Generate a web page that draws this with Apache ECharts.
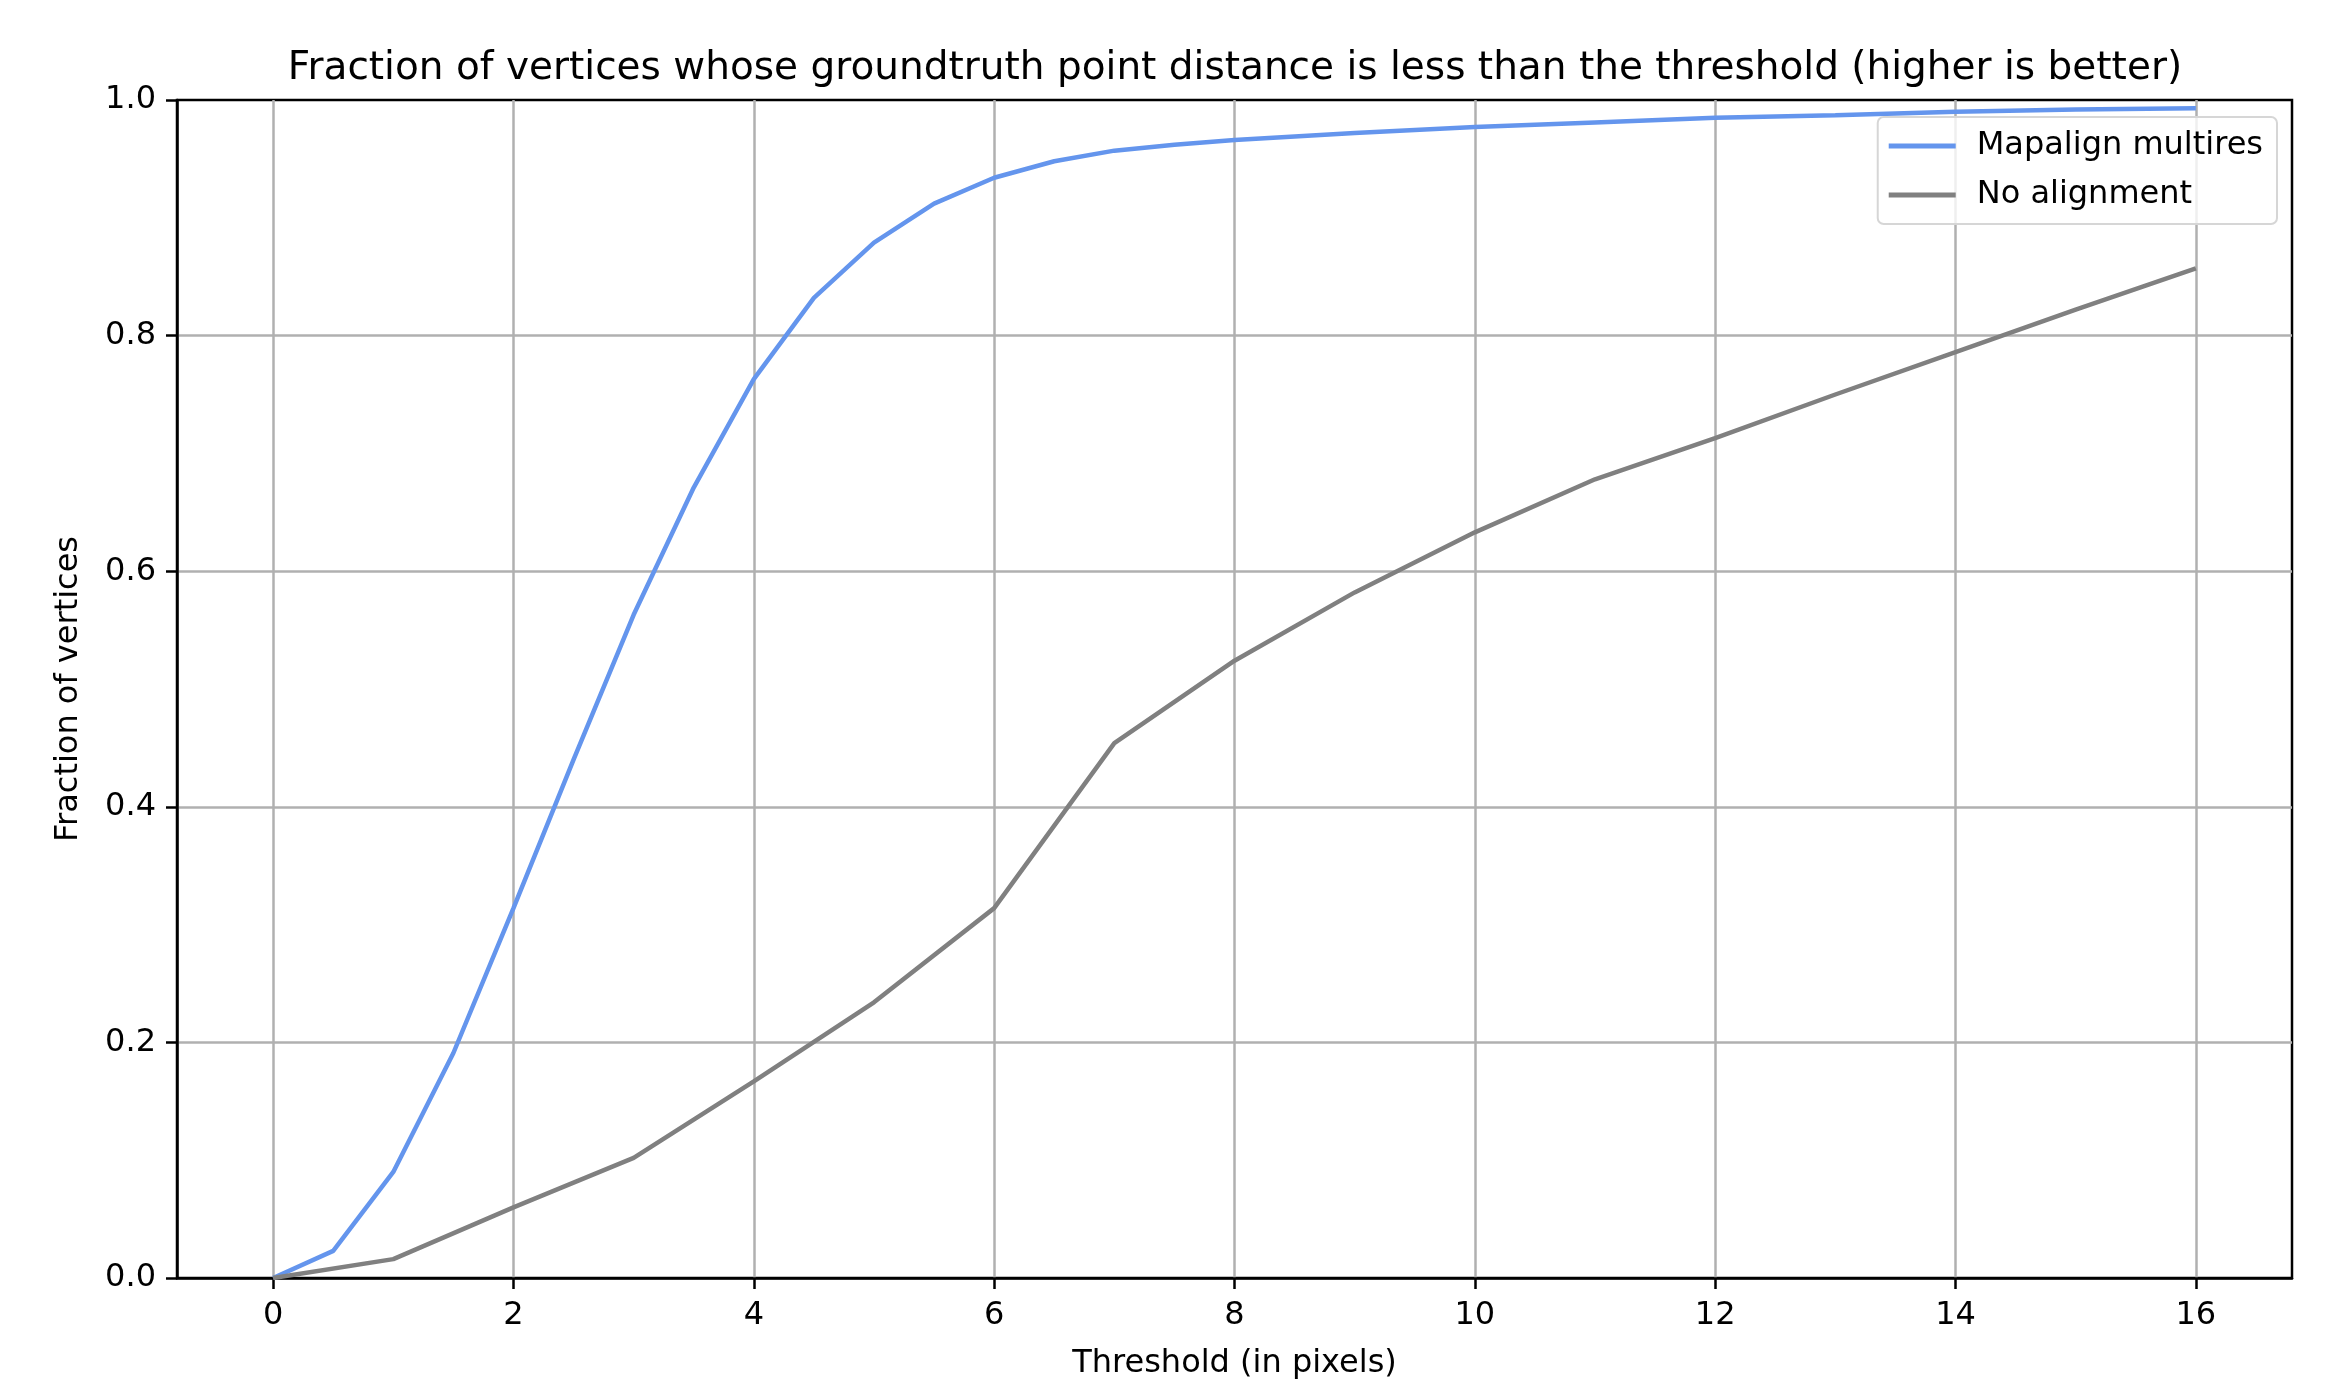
<!DOCTYPE html>
<html>
<head>
<meta charset="utf-8">
<script src="https://cdn.jsdelivr.net/npm/echarts@6/dist/echarts.min.js"></script>
<style>
  html, body { margin: 0; padding: 0; background: #fff; }
  #chart { width: 2347px; height: 1385px; }
</style>
</head>
<body>
<div id="chart"></div>
<script>
// threshold values (pixels) for each curve
const mapalignX = [0, 0.5, 1, 1.5, 2, 2.5, 3, 3.5, 4, 4.5, 5, 5.5, 6, 6.5, 7, 7.5, 8, 9, 10, 11, 12, 13, 14, 15, 16];
const mapalignY = [0, 0.023, 0.090, 0.191, 0.314, 0.440, 0.563, 0.671, 0.763, 0.832, 0.879, 0.912, 0.934, 0.948, 0.957, 0.962, 0.966, 0.972, 0.977, 0.981, 0.985, 0.987, 0.990, 0.992, 0.993];
const noAlignX = [0, 1, 2, 3, 4, 5, 6, 7, 8, 9, 10, 11, 12, 13, 14, 15, 16];
const noAlignY = [0, 0.016, 0.060, 0.102, 0.167, 0.234, 0.314, 0.454, 0.524, 0.582, 0.633, 0.678, 0.713, 0.750, 0.786, 0.822, 0.857];
const xTicks = [0, 2, 4, 6, 8, 10, 12, 14, 16];
const seriesNames = ['Mapalign multires', 'No alignment'];

const font = 'DejaVu Sans';
const zip = (xs, ys) => xs.map((x, i) => [x, ys[i]]);
const spine = { show: true, onZero: false, lineStyle: { color: '#000', width: 2.5 } };
const tick = { show: true, inside: false, length: 11, lineStyle: { color: '#000', width: 2.5 } };
const gridLine = { color: '#b0b0b0', width: 2.5 };

const chart = echarts.init(document.getElementById('chart'));
chart.setOption({
    animation: false,
    backgroundColor: '#fff',
    title: {
        text: 'Fraction of vertices whose groundtruth point distance is less than the threshold (higher is better)',
        left: 1230,
        textAlign: 'center',
        top: 44,
        textStyle: { fontFamily: font, fontSize: 39, fontWeight: 'normal', color: '#000' }
    },
    legend: {
        orient: 'vertical',
        right: 70,
        top: 117,
        padding: [11, 14, 11, 11],
        itemGap: 13,
        itemWidth: 67,
        itemHeight: 5,
        icon: 'rect',
        backgroundColor: 'rgba(255,255,255,0.8)',
        borderColor: '#d6d6d6',
        borderWidth: 2,
        borderRadius: 6,
        textStyle: { fontFamily: font, fontSize: 32, color: '#000', lineHeight: 36, padding: [0, 0, 0, 16] },
        data: seriesNames
    },
    grid: {
        left: 177, right: 55, top: 100, bottom: 102,
        show: true, borderColor: '#000', borderWidth: 2.5
    },
    xAxis: {
        type: 'value',
        min: -0.8, max: 16.8,
        name: 'Threshold (in pixels)',
        nameLocation: 'middle',
        nameGap: 70,
        nameTextStyle: { fontFamily: font, fontSize: 32, color: '#000' },
        axisLine: spine,
        axisTick: Object.assign({ customValues: xTicks }, tick),
        axisLabel: { customValues: xTicks, margin: 22, fontFamily: font, fontSize: 32, color: '#000' },
        splitLine: { show: true, lineStyle: gridLine }
    },
    yAxis: {
        type: 'value',
        min: 0, max: 1, interval: 0.2,
        name: 'Fraction of vertices',
        nameLocation: 'middle',
        nameGap: 92,
        nameTextStyle: { fontFamily: font, fontSize: 32, color: '#000' },
        axisLine: spine,
        axisTick: tick,
        axisLabel: { margin: 21, fontFamily: font, fontSize: 32, color: '#000', formatter: v => v.toFixed(1) },
        splitLine: { show: true, showMinLine: false, showMaxLine: false, lineStyle: gridLine }
    },
    series: [
        {
            name: seriesNames[0], type: 'line', symbol: 'none',
            data: zip(mapalignX, mapalignY),
            lineStyle: { color: '#6495ed', width: 4.5 }, itemStyle: { color: '#6495ed' }
        },
        {
            name: seriesNames[1], type: 'line', symbol: 'none',
            data: zip(noAlignX, noAlignY),
            lineStyle: { color: '#808080', width: 4.5 }, itemStyle: { color: '#808080' }
        }
    ]
});
</script>
</body>
</html>
